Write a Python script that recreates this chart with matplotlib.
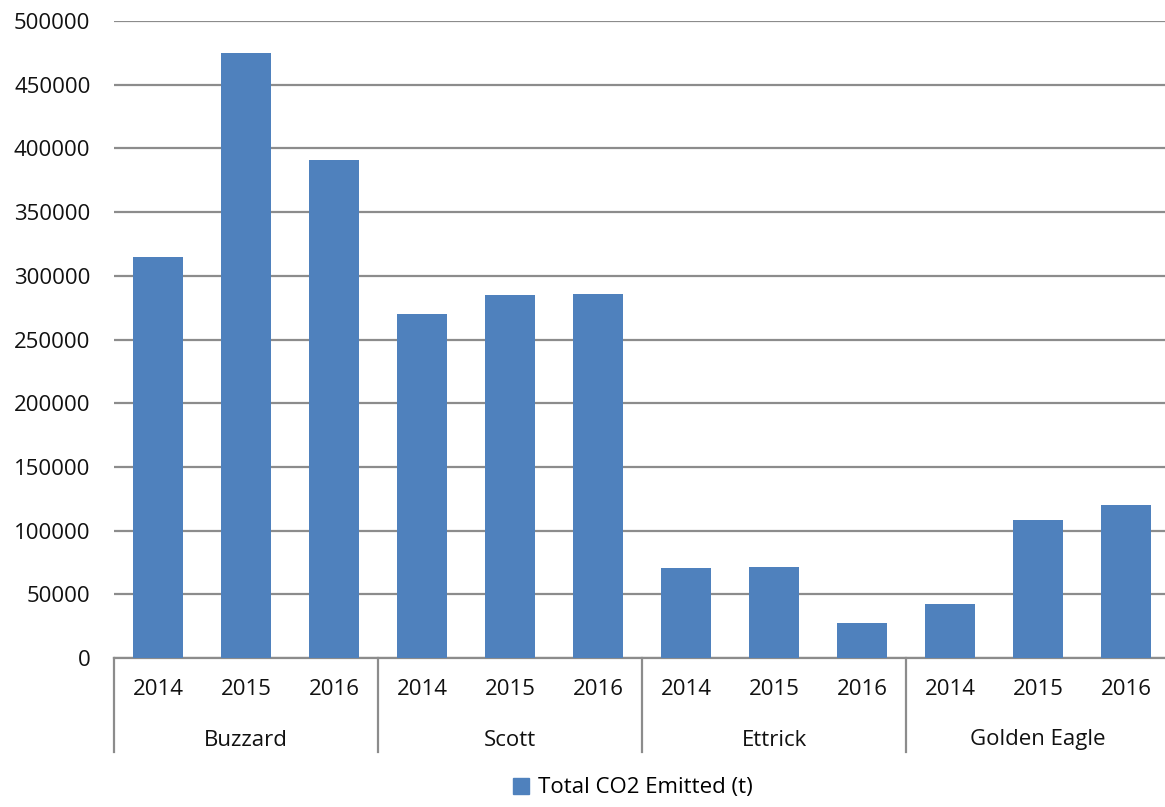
import matplotlib
matplotlib.use("Agg")
import matplotlib.pyplot as plt
from matplotlib.transforms import blended_transform_factory
from matplotlib.patches import Patch

fields = ["Buzzard", "Scott", "Ettrick", "Golden Eagle"]
years = ["2014", "2015", "2016"]
values = [
    315000, 475000, 391000,   # Buzzard
    270000, 285000, 286000,   # Scott
    71000, 71300, 27600,      # Ettrick
    42600, 108000, 120300,    # Golden Eagle
]
series_name = "Total CO2 Emitted (t)"
yticks = [0, 50000, 100000, 150000, 200000, 250000, 300000, 350000, 400000, 450000, 500000]

plt.rcParams['font.family'] = ['Open Sans', 'DejaVu Sans']
W, H = 1165, 807
fig = plt.figure(figsize=(W / 100, H / 100), dpi=100)
left, right, top, bottom = 114, 1170, 21, 658
ax = fig.add_axes([left / W, 1 - bottom / H, (right - left) / W, (bottom - top) / H])

bar_color = "#4F81BD"
grid_color = "#8C8C8C"
text_color = "#111111"
fs = 16
n = len(values)
xs = list(range(n))
ax.bar(xs, values, width=0.57, color=bar_color, zorder=3)
ax.set_xlim(-0.5, n - 0.5)
ax.set_ylim(0, 500000)
ax.set_yticks(yticks)
ax.set_yticklabels([str(v) for v in yticks], fontsize=fs, color=text_color)
ax.yaxis.grid(True, color=grid_color, linewidth=1.6, zorder=0)
ax.tick_params(axis='y', length=0, pad=17)
for s in ["left", "right", "top"]:
    ax.spines[s].set_visible(False)
ax.spines["bottom"].set_color(grid_color)
ax.spines["bottom"].set_linewidth(1.6)

ax.set_xticks(xs)
ax.set_xticklabels(years * len(fields), fontsize=fs, color=text_color)
ax.tick_params(axis='x', length=0, pad=15)

ah = bottom - top
trans = blended_transform_factory(ax.transData, ax.transAxes)
sep_bottom = -(752 - bottom) / ah
for g in range(len(fields)):
    xsep = g * len(years) - 0.5
    ax.plot([xsep, xsep], [0, sep_bottom], color=grid_color, linewidth=1.6,
            transform=trans, clip_on=False)
    xc = g * len(years) + (len(years) - 1) / 2
    ax.text(xc, -(740 - bottom) / ah, fields[g], transform=trans, ha="center", va="center",
            fontsize=fs, color=text_color)

fig.legend(handles=[Patch(color=bar_color, label=series_name)], loc="center",
           bbox_to_anchor=(633 / W, 1 - 788 / H), frameon=False, fontsize=fs,
           handlelength=0.7, handleheight=0.7, handletextpad=0.4)

fig.savefig("out.png", dpi=100)
